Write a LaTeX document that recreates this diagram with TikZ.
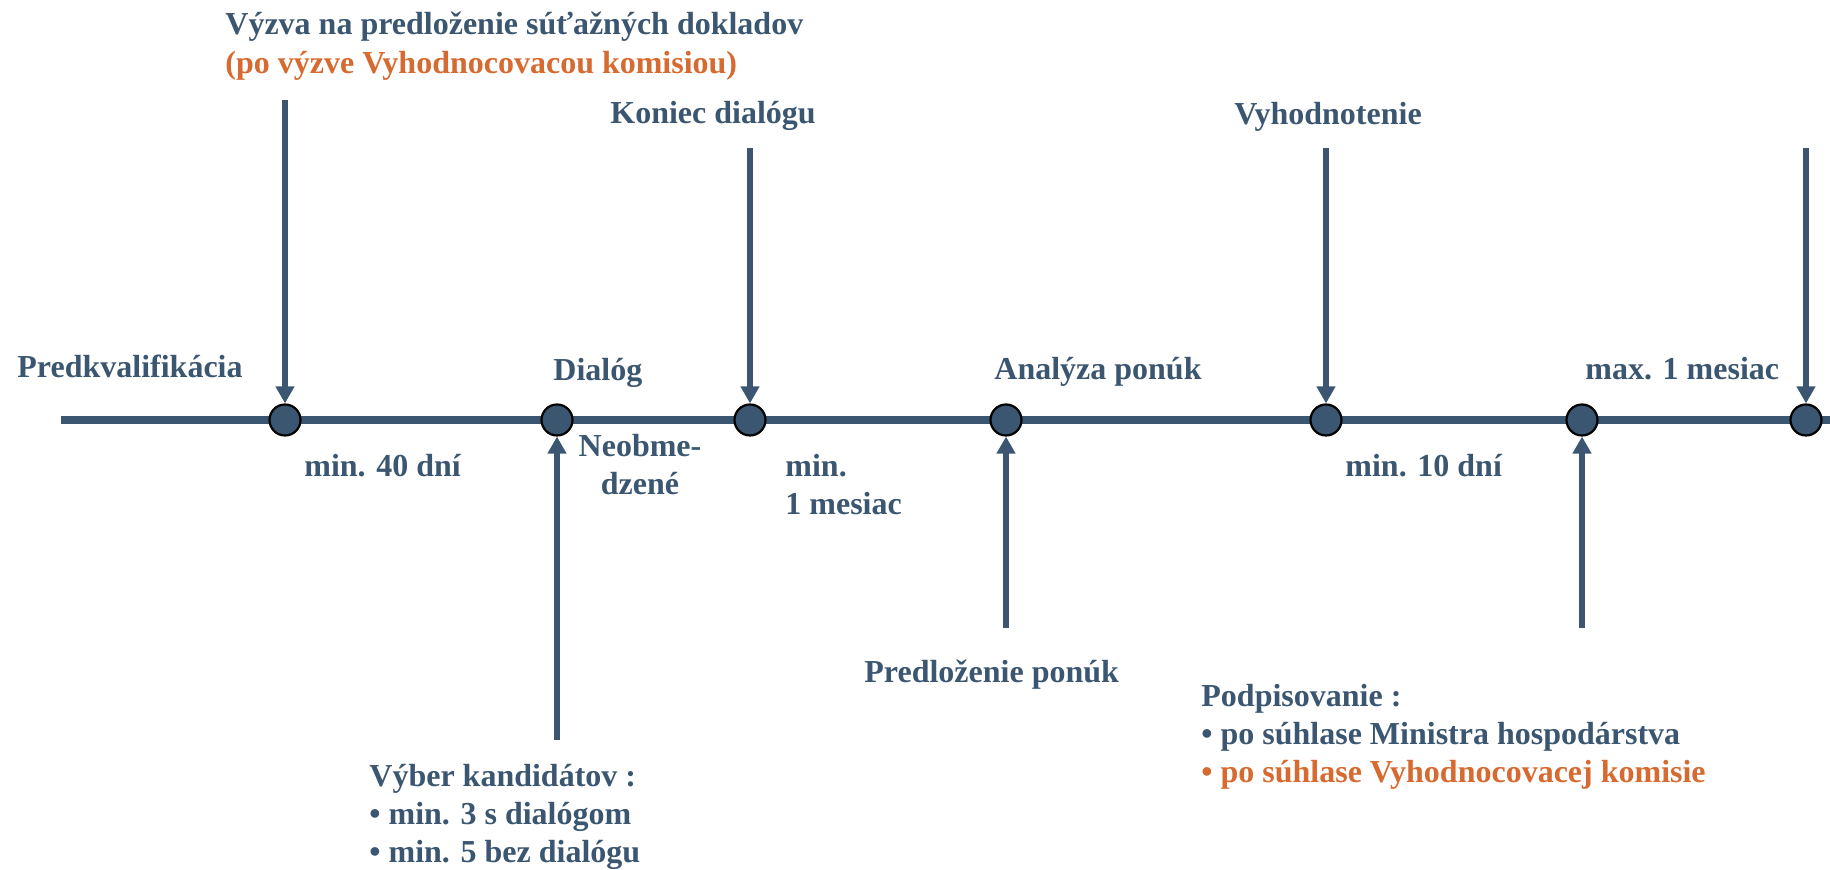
\documentclass[tikz,border=0pt]{standalone}
\usepackage{fontspec}
\setmainfont{Liberation Serif}
\usepackage{tikz}
\usetikzlibrary{arrows.meta}
\definecolor{tlblue}{RGB}{59,86,112}
\definecolor{tlorange}{RGB}{214,106,48}

\begin{document}
\begin{tikzpicture}[x=50pt, y=50pt,
    dot/.style={circle, draw=black, line width=1.1pt, fill=tlblue, minimum size=15.5pt, inner sep=0pt},
    arr/.style={draw=tlblue, line width=2.8pt, -{Triangle[width=9pt,length=8.5pt]}},
    lbl/.style={font=\fontsize{16}{19}\selectfont\bfseries, text=tlblue, inner sep=0pt, anchor=base west}]
      \useasboundingbox (0,-4.5) rectangle (18.3,4.2);
      \draw[tlblue, line width=4pt] (0.61, 0) -- (18.3, 0);
      % points on the time line
      \node[dot] (p1) at (2.85, 0) {};
      \node[dot] (p2) at (5.57, 0) {};
      \node[dot] (p3) at (7.50, 0) {};
      \node[dot] (p4) at (10.06, 0) {};
      \node[dot] (p5) at (13.26, 0) {};
      \node[dot] (p6) at (15.82, 0) {};
      \node[dot] (p7) at (18.06, 0) {};
      % arrows from above
      \coordinate (a1) at (2.85, 3.20);
      \coordinate (a3) at (7.50, 2.72);
      \coordinate (a5) at (13.26, 2.72);
      \coordinate (a7) at (18.06, 2.72);
      \draw[arr] (a1) -- (p1);
      \draw[arr] (a3) -- (p3);
      \draw[arr] (a5) -- (p5);
      \draw[arr] (a7) -- (p7);
      % arrows from below
      \coordinate (b2) at (5.57, -3.20);
      \coordinate (b4) at (10.06, -2.08);
      \coordinate (b6) at (15.82, -2.08);
      \draw[arr] (b2) -- (p2);
      \draw[arr] (b4) -- (p4);
      \draw[arr] (b6) -- (p6);
      % labels above the line (multi-line ones sit on their last baseline)
      \node[lbl, align=left, font=\fontsize{16}{19.5}\selectfont\bfseries] (vyzva) at (2.25, 3.46)
        {V\'yzva na predlo\v{z}enie s\'u\v{t}a\v{z}n\'ych dokladov\\
         \textcolor{tlorange}{(po v\'yzve Vyhodnocovacou komisiou)}};
      \node[lbl] (koniec) at (6.10, 2.96) {Koniec dial\'ogu};
      \node[lbl] (vyhodn) at (12.34, 2.95) {Vyhodnotenie};
      \node[lbl] (predkv) at (0.17, 0.42) {Predkvalifik\'acia};
      \node[lbl] (dialog) at (5.53, 0.39) {Dial\'og};
      \node[lbl] (analyza) at (9.94, 0.40) {Anal\'yza pon\'uk};
      \node[lbl] (maxmes) at (15.85, 0.40) {max. 1 mesiac};
      % labels below the line
      \node[lbl] (min40) at (3.04, -0.57) {min. 40 dn\'i};
      \node[lbl, anchor=base, align=center] (neobm) at (6.40, -0.75) {Neobme-\\dzen\'e};
      \node[lbl, align=left] (min1) at (7.85, -0.95) {min.\\1 mesiac};
      \node[lbl] (min10) at (13.45, -0.57) {min. 10 dn\'i};
      \node[lbl] (predloz) at (8.64, -2.63) {Predlo\v{z}enie pon\'uk};
      \node[lbl, align=left] (vyber) at (3.69, -4.43)
        {V\'yber kandid\'atov :\\ \textbullet\ min. 3 s dial\'ogom\\ \textbullet\ min. 5 bez dial\'ogu};
      \node[lbl, align=left] (podpis) at (12.01, -3.63)
        {Podpisovanie :\\ \textbullet\ po s\'uhlase Ministra hospod\'arstva\\
         \textcolor{tlorange}{\textbullet\ po s\'uhlase Vyhodnocovacej komisie}};
    \end{tikzpicture}
\end{document}
